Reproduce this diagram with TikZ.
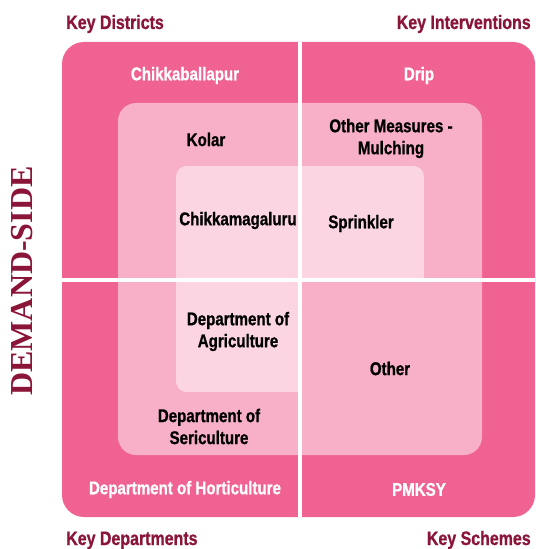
\documentclass[tikz,border=0pt]{standalone}
\usepackage{fontspec}
\setmainfont{Liberation Sans}[FakeStretch=0.82,BoldFeatures={FakeBold=0.9}]
\newfontfamily\headserif{Liberation Serif}
\definecolor{outerpink}{HTML}{F06292}
\definecolor{midpink}{HTML}{F8AFC8}
\definecolor{innerpink}{HTML}{FBD5E1}
\definecolor{maroon}{HTML}{8A1538}
\begin{document}
\begin{tikzpicture}[x=.75pt,y=-.75pt,
  lbl/.style={font=\bfseries\fontsize{13.8}{16.5}\selectfont,align=center,inner sep=0pt},
  wlbl/.style={lbl,text=white},
  keytitle/.style={font=\bfseries\fontsize{14.6}{17}\selectfont,text=maroon,inner sep=0pt}]
 \useasboundingbox (0,0) rectangle (535,549);
 % nested squares
 \fill[outerpink,rounded corners=16.5pt] (62,42) rectangle (535,517);
 \fill[midpink,rounded corners=13.5pt] (118,103) rectangle (482,455);
 \fill[innerpink,rounded corners=8pt] (176,166) rectangle (424,392);
 \fill[midpink] (300,280) rectangle (424,392);
 % quadrant cross
 \draw[white,line width=2.3pt] (300,42)--(300,517);
 \draw[white,line width=2.3pt] (62,280)--(535,280);
 % corner titles
 \node[keytitle,anchor=base west] (kd) at (66,29) {Key Districts};
 \node[keytitle,anchor=base east] (ki) at (531,29) {Key Interventions};
 \node[keytitle,anchor=base west] (kdep) at (66,545) {Key Departments};
 \node[keytitle,anchor=base east] (ks) at (531,545) {Key Schemes};
 \node[rotate=90,text=maroon,inner sep=0pt,font=\headserif\bfseries\fontsize{24}{24}\selectfont] (side) at (22,281) {DEMAND-SIDE};
 % outer ring
 \node[wlbl] (chb) at (185,75.5) {Chikkaballapur};
 \node[wlbl] (drip) at (419,75.5) {Drip};
 \node[wlbl] (hort) at (185,489.5) {Department of Horticulture};
 \node[wlbl] (pmksy) at (419,489.5) {PMKSY};
 % middle ring
 \node[lbl] (kolar) at (206,139.5) {Kolar};
 \node[lbl] (mulch) at (391,138.5) {Other Measures -\\Mulching};
 \node[lbl] (seri) at (209,426.5) {Department of\\Sericulture};
 \node[lbl] (other) at (390,368.5) {Other};
 % inner square
 \node[lbl] (chm) at (238,220.5) {Chikkamagaluru};
 \node[lbl] (sprink) at (361,223.5) {Sprinkler};
 \node[lbl] (agri) at (238,331.5) {Department of\\Agriculture};
\end{tikzpicture}
\end{document}
